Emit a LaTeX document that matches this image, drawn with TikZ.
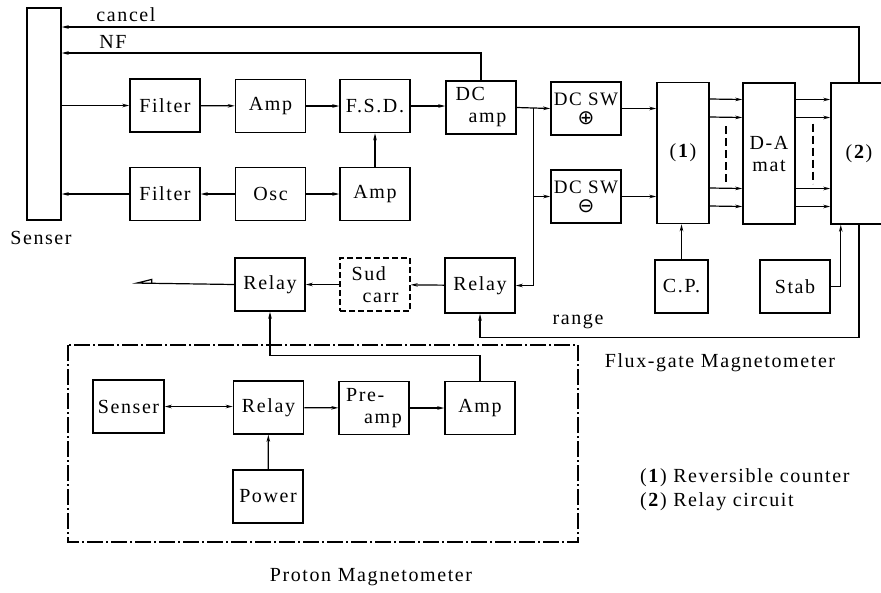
\documentclass[tikz,border=0pt]{standalone}
\usepackage{fontspec}
\newfontfamily\diafont[LetterSpace=8]{Liberation Serif}
\newfontfamily\signfont{DejaVu Sans}
\usetikzlibrary{arrows.meta, calc, positioning}

\begin{document}
\begin{tikzpicture}[
    x=1pt, y=-1pt,
    every node/.style={font=\diafont\fontsize{20}{22}\selectfont},
    block/.style={rectangle, draw, line width=1.5pt, minimum width=70pt,
                  minimum height=53pt, inner sep=1pt, align=center},
    tallblock/.style={block, minimum width=52pt, minimum height=141pt},
    dblock/.style={block, dash pattern=on 6pt off 3pt},
    lbl/.style={inner sep=0pt},
    arr/.style={-{Stealth[length=7pt,width=3.5pt]}, line width=1.2pt},
    biarr/.style={{Stealth[length=7pt,width=3.5pt]}-{Stealth[length=7pt,width=3.5pt]}, line width=1.2pt},
    plain/.style={line width=1.2pt},
    outarr/.style={-{Triangle[open,right,length=18pt,width=9pt]}, line width=1.2pt},
]
\useasboundingbox (0,0) rectangle (881,592);

%% Flux-gate sensor and front end
\node[block, minimum width=34pt, minimum height=212pt] (fsens) at (44,114) {};
\node[lbl] (fsenslbl) at (41,238) {Senser};
\node[block] (filt1) at (165,105.5) {Filter};
\node[block] (amp1)  at (270.5,106) {Amp};
\node[block] (fsd)   at (375,106)   {F.S.D.};
\node[block, align=left] (dcamp) at (481,107.5) {DC\\\hspace{13pt}amp};
\node[block] (filt2) at (165,194)   {Filter};
\node[block] (osc)   at (270.5,194) {Osc};
\node[block] (amp2)  at (375,194)   {Amp};

%% Switches, counter, D-A and relay circuit
\node[block, font=\diafont\fontsize{19}{21}\selectfont] (swp) at (586,108.5)
    {DC SW\\[-2pt]{\signfont\fontsize{20}{20}\selectfont ⊕}};
\node[block, font=\diafont\fontsize{19}{21}\selectfont] (swm) at (586,196.5)
    {DC SW\\[-2pt]{\signfont\fontsize{20}{20}\selectfont ⊖}};
\node[tallblock] (cnt) at (683,153)   {(\textbf{1})};
\node[tallblock] (dam) at (769,153.5) {D-A\\mat};
\node[tallblock, minimum width=56pt] (rly2) at (859,153.5) {(\textbf{2})};
\node[block, minimum width=53pt] (cp) at (681.5,286.5) {C.P.};
\node[block] (stab) at (795,286.5) {Stab};

%% Relay chain
\node[block, minimum height=55pt] (frelay) at (480,285.5) {Relay};
\node[dblock, align=left] (sud) at (375,284.5) {Sud\\\hspace{11pt}carr};
\node[block] (lrelay) at (270,284.5) {Relay};
\coordinate (outp) at (132,283);

%% Proton magnetometer
\draw[line width=1.2pt, dash pattern=on 16pt off 3pt on 2pt off 3pt]
    (68,345) rectangle (578,542);
\node[block, minimum width=71pt] (psens) at (128.5,406.5) {Senser};
\node[block] (prelay) at (268.5,407.5) {Relay};
\node[block, align=left] (preamp) at (374,408) {Pre-\\\hspace{18pt}amp};
\node[block] (pamp)   at (480,408) {Amp};
\node[block] (power)  at (268,496.5) {Power};

%% Arrows -- flux-gate loop
\coordinate (cancelY) at (0,27);
\coordinate (nfY) at (0,53);
\draw[arr] (rly2.north) |- (fsens.east |- cancelY);
\draw[arr] (dcamp.north) |- (fsens.east |- nfY);
\node[lbl] (cancellbl) at (126,15) {cancel};
\node[lbl] (nflbl) at (113,42) {NF};

\draw[arr] (fsens.east |- filt1) -- (filt1);
\draw[arr] (filt1) -- (amp1);
\draw[arr] (amp1) -- (fsd);
\draw[arr] (fsd) -- (fsd -| dcamp.west);
\draw[arr] (osc) -- (filt2);
\draw[arr] (filt2) -- (fsens.east |- filt2);
\draw[arr] (osc) -- (amp2);
\draw[arr] (amp2) -- (fsd);

%% Arrows -- switches
\coordinate (jct) at ($(dcamp.east)!0.5!(swp.west)$);
\draw[arr] (dcamp.east) -- (swp.west);
\draw[arr] (jct) |- (swm.west);
\draw[arr] (jct) |- (frelay.east);
\draw[arr] (swp.east) -- (swp.east -| cnt.west);
\draw[arr] (swm.east) -- (swm.east -| cnt.west);

%% Parallel lines
\foreach \dy in {-54,-36,35,53} {
    \draw[arr] ($(cnt.east)+(0,\dy)$) -- ($(dam.west)+(0,\dy)$);
    \draw[arr] ($(dam.east)+(0,\dy)$) -- ($(rly2.west)+(0,\dy)$);
}
\draw[plain, dash pattern=on 8pt off 4pt] ($(cnt.east)!0.5!(dam.west)+(0,-27)$) -- ++(0,56);
\draw[plain, dash pattern=on 8pt off 4pt] ($(dam.east)!0.5!(rly2.west)+(0,-30)$) -- ++(0,60);

\draw[arr] (cp.north) -- (cp.north |- cnt.south);
\draw[arr] (stab.east) -- ++(10,0) coordinate (stabx) -- (stabx |- rly2.south);
\draw[arr] (rly2.south) -- ++(0,113) -| (frelay.south);
\node[lbl] (rangelbl) at (578,322) {range};

%% Arrows -- relay chain
\draw[arr] (frelay) -- (sud);
\draw[arr] (sud) -- (lrelay);
\draw[outarr] (lrelay.west) -- (outp);
\draw[arr] (pamp.north) -- ++(0,-25) -| (lrelay.south);

%% Arrows -- proton
\draw[biarr] (psens.east) -- (psens.east -| prelay.west);
\draw[arr] (prelay) -- (preamp);
\draw[arr] (preamp) -- (pamp);
\draw[arr] (power) -- (prelay);

%% Captions
\node[lbl] (fluxlbl) at (720,363) {Flux-gate Magnetometer};
\node[lbl] (protonlbl) at (371,577) {Proton Magnetometer};
\node[lbl, anchor=west, align=left, font=\diafont\fontsize{20}{23.5}\selectfont]
    (legend) at (640,489.5)
    {(\textbf{1}) Reversible counter\\(\textbf{2}) Relay circuit};

\end{tikzpicture}
\end{document}
